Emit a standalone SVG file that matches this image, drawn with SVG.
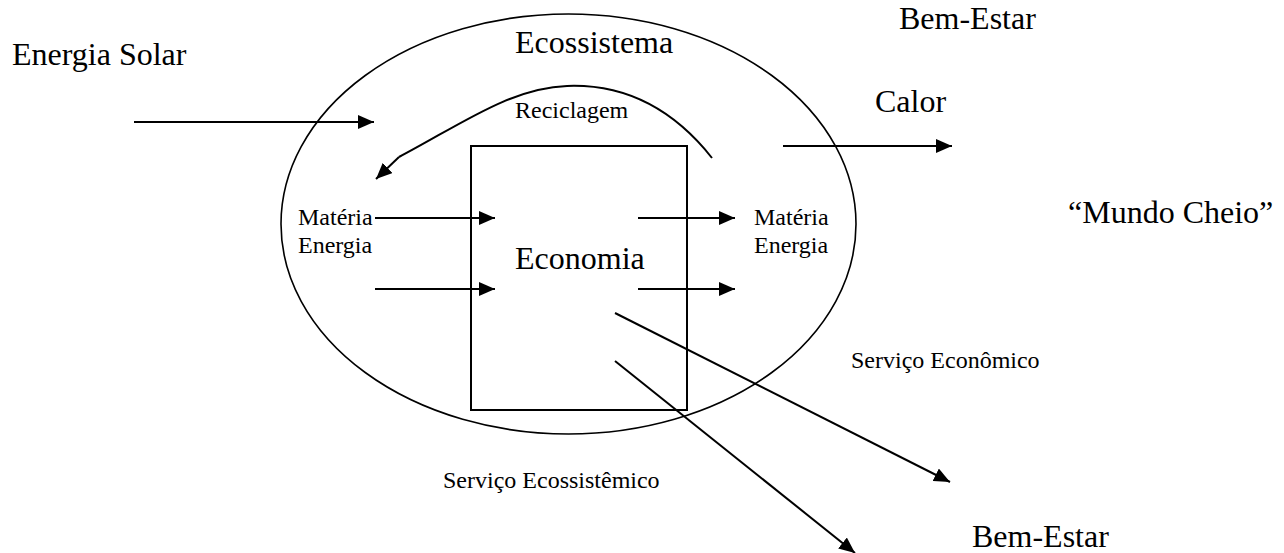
<svg xmlns="http://www.w3.org/2000/svg" width="1284" height="553" viewBox="0 0 1284 553">
<style>
text{font-family:"Liberation Serif","Times New Roman",serif;fill:#000}
.big{font-size:32px}
.small{font-size:24px}
.ln{stroke:#000;stroke-width:2;fill:none}
.arr{stroke:#000;stroke-width:2;fill:none;marker-end:url(#ah)}
</style>
<defs>
<marker id="ah" markerUnits="userSpaceOnUse" markerWidth="16" markerHeight="14" refX="16" refY="7" orient="auto" viewBox="0 0 16 14">
<path d="M0,0 L16,7 L0,14 z" fill="#000"/>
</marker>
</defs>
<rect width="1284" height="553" fill="#fff"/>
<g id="ecossistema">
<ellipse cx="568.5" cy="224" rx="287.5" ry="210" fill="none" stroke="#000" stroke-width="1.6"/>
<text class="big" x="515" y="53">Ecossistema</text>
</g>
<g id="economia">
<rect x="471" y="146" width="216" height="264" class="ln"/>
<text class="big" x="515" y="269">Economia</text>
</g>
<g id="energia-solar"><text class="big" x="12" y="65">Energia Solar</text></g>
<g id="bem-estar-topo"><text class="big" x="899" y="29">Bem-Estar</text></g>
<g id="calor"><text class="big" x="875" y="112">Calor</text></g>
<g id="reciclagem"><text class="small" x="515" y="118">Reciclagem</text></g>
<g id="materia-entrada">
<text class="small" x="298" y="225">Matéria</text>
<text class="small" x="298" y="253">Energia</text>
</g>
<g id="materia-saida">
<text class="small" x="754" y="225">Matéria</text>
<text class="small" x="754" y="253">Energia</text>
</g>
<g id="mundo-cheio"><text class="big" x="1068" y="223">“Mundo Cheio”</text></g>
<g id="servico-economico"><text class="small" x="851" y="368">Serviço Econômico</text></g>
<g id="servico-ecossistemico"><text class="small" x="443" y="488">Serviço Ecossistêmico</text></g>
<g id="bem-estar-base"><text class="big" x="972" y="547">Bem-Estar</text></g>
<g id="connectors">
<line class="arr" x1="134" y1="122" x2="374" y2="122"/>
<line class="arr" x1="783" y1="146" x2="952" y2="146"/>
<path class="ln" d="M712,158 C670,105 620,84 567,86 C510,88 460,125 399,157"/>
<line class="arr" x1="399" y1="157" x2="376" y2="179"/>
<line class="arr" x1="375" y1="218" x2="495" y2="218"/>
<line class="arr" x1="375" y1="289" x2="495" y2="289"/>
<line class="arr" x1="638" y1="218" x2="735" y2="218"/>
<line class="arr" x1="638" y1="289" x2="735" y2="289"/>
<line class="arr" x1="615" y1="313" x2="950" y2="482"/>
<line class="arr" x1="615" y1="361" x2="855" y2="553"/>
</g>
</svg>
